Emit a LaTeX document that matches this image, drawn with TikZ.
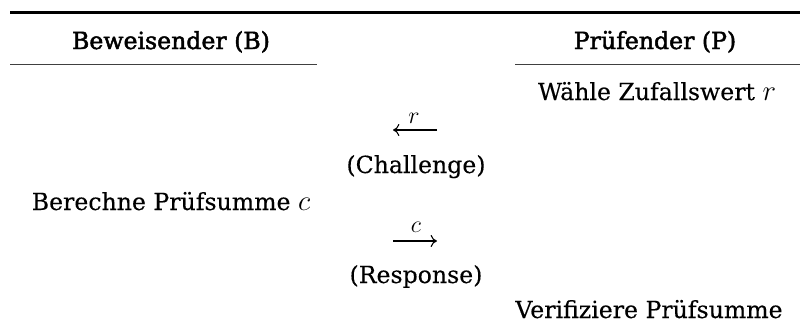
\documentclass[tikz,border=0pt]{standalone}
\usepackage{fontspec}
\setmainfont[FakeBold=0.25]{DejaVu Serif}
\newfontfamily\headfont[FakeBold=2.0]{DejaVu Serif}
\newcommand\mth[1]{{\fontsize{13.8}{14}\selectfont$#1$}}
\usetikzlibrary{arrows.meta}
\begin{document}
\begin{tikzpicture}[x=1pt,y=1pt,
  txt/.style={inner sep=0pt,anchor=base,font=\fontsize{11.8}{14}\selectfont},
  head/.style={txt,font=\fontsize{11.8}{14}\headfont},
  toprl/.style={line width=1.2pt},
  midrl/.style={line width=0.45pt,black!75},
  msg/.style={line width=0.55pt,-{Computer Modern Rightarrow[length=3.2pt,width=6pt]}}]
\useasboundingbox (0,0) rectangle (400,166.5);
\draw[toprl] (5,160.25) -- (400,160.25);
\draw[midrl] (5,134.25) -- (158.3,134.25);
\draw[midrl] (257.5,134.25) -- (400,134.25);
\node[head] (hb) at (85.5,142) {Beweisender (B)};
\node[head] (hp) at (327.5,142) {Prüfender (P)};
\node[txt] (w) at (328.5,116.5) {Wähle Zufallswert \mth{r}};
\coordinate (a1r) at (218.5,101.5);
\coordinate (a1l) at (196.5,101.5);
\draw[msg] (a1r) -- (a1l);
\node[txt] (lr) at (207,104.5) {$r$};
\node[txt] (ch) at (208,80) {(Challenge)};
\node[txt] (bp) at (85.5,61.5) {Berechne Prüfsumme \mth{c}};
\coordinate (a2l) at (196.5,46);
\coordinate (a2r) at (218.5,46);
\draw[msg] (a2l) -- (a2r);
\node[txt] (lc) at (208,50.5) {$c$};
\node[txt] (re) at (208,25) {(Response)};
\node[txt] (vp) at (324.5,7.5) {Verifiziere Prüfsumme};
\end{tikzpicture}
\end{document}
